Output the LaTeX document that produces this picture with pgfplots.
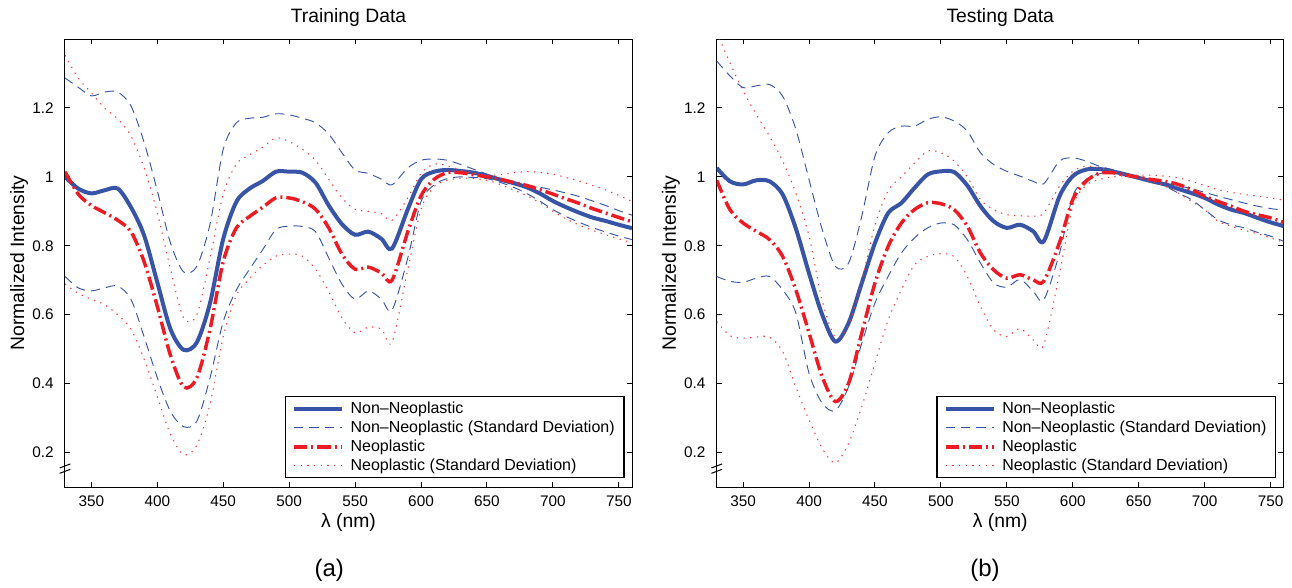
\documentclass[border=0pt]{standalone}
\usepackage{fontspec}
\setmainfont{Liberation Sans}
\usepackage{pgfplots}
\usepackage{pgfplotstable}
\pgfplotsset{compat=1.18}

\definecolor{mblue}{RGB}{56,84,166}
\definecolor{mred}{RGB}{237,28,36}
\definecolor{mredlt}{RGB}{240,60,60}

% x  nn (mean)  nnu/nnl (mean +- sd)  ne (mean)  neu/nel (mean +- sd)
\pgfplotstableread{
x   nn    nnu   nnl   ne    neu   nel
330 1.000 1.287 0.711 1.015 1.353 0.689
340 0.966 1.260 0.678 0.950 1.287 0.662
350 0.952 1.235 0.669 0.917 1.244 0.645
360 0.961 1.246 0.678 0.896 1.200 0.629
370 0.966 1.246 0.683 0.874 1.168 0.600
380 0.912 1.206 0.645 0.841 1.119 0.558
390 0.830 1.100 0.536 0.754 1.026 0.471
400 0.694 0.960 0.417 0.624 0.896 0.362
410 0.558 0.808 0.319 0.482 0.732 0.253
420 0.498 0.724 0.275 0.390 0.590 0.194
430 0.520 0.741 0.291 0.417 0.600 0.221
440 0.634 0.863 0.417 0.558 0.765 0.341
450 0.820 1.080 0.580 0.754 0.950 0.536
460 0.928 1.157 0.672 0.852 1.037 0.656
470 0.966 1.170 0.732 0.885 1.064 0.705
480 0.988 1.173 0.789 0.912 1.086 0.743
490 1.015 1.183 0.847 0.939 1.113 0.770
500 1.015 1.180 0.857 0.939 1.102 0.776
510 1.012 1.170 0.856 0.928 1.080 0.770
520 0.983 1.157 0.841 0.906 1.048 0.732
530 0.917 1.124 0.765 0.852 0.993 0.667
540 0.863 1.070 0.689 0.776 0.939 0.591
550 0.832 1.020 0.645 0.732 0.906 0.547
560 0.841 1.010 0.669 0.738 0.900 0.564
570 0.820 0.993 0.645 0.721 0.893 0.558
578 0.792 0.977 0.613 0.700 0.874 0.520
590 0.906 1.026 0.765 0.841 0.939 0.732
600 0.993 1.048 0.928 0.945 1.010 0.906
610 1.015 1.052 0.977 0.993 1.037 0.972
620 1.020 1.048 0.995 1.012 1.032 0.990
630 1.017 1.036 1.000 1.012 1.020 0.996
640 1.012 1.022 0.998 1.006 1.010 0.995
650 1.003 1.008 0.995 1.000 1.005 0.990
660 0.992 0.995 0.984 0.993 1.006 0.978
670 0.982 0.986 0.970 0.984 1.012 0.962
680 0.970 0.977 0.952 0.975 1.015 0.946
690 0.952 0.970 0.930 0.963 1.013 0.925
700 0.930 0.962 0.905 0.950 1.008 0.900
710 0.912 0.953 0.885 0.936 0.998 0.878
720 0.896 0.943 0.868 0.923 0.988 0.860
730 0.882 0.930 0.853 0.908 0.975 0.845
740 0.872 0.917 0.840 0.895 0.962 0.832
750 0.861 0.902 0.828 0.882 0.946 0.820
760 0.851 0.889 0.818 0.870 0.929 0.808
}\train

\pgfplotstableread{
x   nn    nnu   nnl   ne    neu   nel
330 1.026 1.336 0.711 0.990 1.420 0.580
340 0.987 1.293 0.697 0.905 1.331 0.539
350 0.978 1.259 0.694 0.866 1.249 0.532
360 0.990 1.264 0.706 0.842 1.181 0.535
370 0.987 1.268 0.711 0.818 1.118 0.535
380 0.949 1.234 0.672 0.769 1.046 0.493
390 0.850 1.138 0.605 0.672 0.953 0.390
400 0.720 0.992 0.430 0.547 0.828 0.295
410 0.600 0.847 0.343 0.420 0.640 0.212
420 0.522 0.740 0.322 0.348 0.535 0.170
430 0.576 0.750 0.391 0.401 0.570 0.227
440 0.692 0.886 0.517 0.547 0.700 0.333
450 0.808 1.060 0.634 0.692 0.860 0.460
460 0.895 1.128 0.711 0.798 0.960 0.585
470 0.924 1.147 0.779 0.866 1.000 0.672
480 0.968 1.147 0.823 0.905 1.040 0.745
490 1.007 1.167 0.852 0.925 1.075 0.769
500 1.016 1.174 0.866 0.922 1.070 0.777
510 1.014 1.162 0.861 0.905 1.046 0.769
520 0.975 1.133 0.818 0.857 1.000 0.711
530 0.915 1.070 0.750 0.779 0.934 0.624
540 0.871 1.036 0.692 0.730 0.905 0.556
550 0.852 1.016 0.680 0.706 0.890 0.537
560 0.861 1.002 0.702 0.716 0.887 0.560
570 0.842 0.987 0.668 0.701 0.886 0.527
578 0.813 0.980 0.643 0.697 0.895 0.513
590 0.944 1.046 0.779 0.810 0.973 0.720
600 1.002 1.055 0.944 0.934 1.016 0.915
610 1.021 1.046 0.992 0.987 1.031 0.975
620 1.023 1.031 1.009 1.010 1.026 0.992
630 1.016 1.021 1.012 1.012 1.016 1.000
640 1.007 1.009 1.006 1.005 1.007 1.002
650 0.997 1.000 0.998 0.999 1.005 0.997
660 0.987 0.990 0.985 0.992 1.005 0.987
670 0.978 0.982 0.973 0.987 1.002 0.973
680 0.965 0.974 0.953 0.978 0.997 0.953
690 0.953 0.966 0.934 0.963 0.987 0.929
700 0.939 0.955 0.905 0.944 0.975 0.905
710 0.920 0.944 0.876 0.929 0.963 0.871
720 0.905 0.934 0.861 0.915 0.955 0.857
730 0.895 0.924 0.852 0.900 0.949 0.845
740 0.881 0.915 0.839 0.890 0.944 0.835
750 0.868 0.908 0.828 0.881 0.939 0.823
760 0.857 0.903 0.813 0.868 0.932 0.810
}\test

\pgfplotsset{
  spec/.style={
    scale only axis, width=425.25pt, height=336pt,
    xmin=330, xmax=760, ymin=0.1, ymax=1.4,
    xtick={350,400,...,750}, ytick={0.2,0.4,0.6,0.8,1,1.2},
    tick align=inside, tick pos=both, major tick length=4pt,
    axis line style={line width=0.75pt},
    every tick/.style={black, line width=0.75pt},
    /pgf/number format/assume math mode=true,
    tick label style={font=\fontsize{11.5}{13.8}\selectfont},
    xticklabel style={yshift=-3pt},
    yticklabel style={xshift=-5pt},
    label style={font=\fontsize{14.5}{17}\selectfont},
    every axis title shift=0pt,
    title style={font=\fontsize{14.5}{17}\selectfont,
      at={(axis description cs:0.5,1.047)}, anchor=center},
    xlabel={λ (nm)},
    xlabel style={at={(axis description cs:0.5,-0.08)}, anchor=center},
    ylabel={Normalized Intensity},
    ylabel style={at={(axis description cs:-0.081,0.5)}, anchor=center},
    clip mode=individual,
    legend style={at={(axis description cs:0.987,0.019)}, anchor=south east,
      draw=black, line width=0.9pt, fill=white,
      font=\fontsize{12}{14.4}\selectfont,
      inner xsep=5pt, inner ysep=2pt, row sep=0pt, column sep=3pt,
      cells={anchor=west}},
    legend image code/.code={\draw[#1] (0pt,0pt) -- (36pt,0pt);},
  },
  nnmean/.style={mblue, line width=3pt, smooth, tension=0.5},
  nnsd/.style={mblue, line width=0.7pt, dash pattern=on 7pt off 4.5pt, smooth, tension=0.5},
  nemean/.style={mred, line width=2.6pt, dash pattern=on 10pt off 3pt on 1.5pt off 3pt, smooth, tension=0.5},
  nesd/.style={mredlt, line width=0.8pt, dash pattern=on 1pt off 4pt, smooth, tension=0.5},
}

\newcommand{\breakmark}{%
  \draw[line width=0.75pt] (axis description cs:0,0.035) ++(-4pt,-1.5pt) -- ++(8pt,3pt);
  \draw[line width=0.75pt] (axis description cs:0,0.047) ++(-4pt,-1.5pt) -- ++(8pt,3pt);
}

\begin{document}
\begin{tikzpicture}
\useasboundingbox (-48.75pt,-75pt) rectangle (920.25pt,365.25pt);

\begin{axis}[spec, at={(0pt,0pt)}, anchor=south west, title={Training Data}]
  \addplot[nnmean] table[x=x, y=nn] {\train};
  \addlegendentry{Non–Neoplastic}
  \addplot[nnsd] table[x=x, y=nnu] {\train};
  \addlegendentry{Non–Neoplastic (Standard Deviation)}
  \addplot[nnsd, forget plot] table[x=x, y=nnl] {\train};
  \addplot[nemean] table[x=x, y=ne] {\train};
  \addlegendentry{Neoplastic}
  \addplot[nesd] table[x=x, y=neu] {\train};
  \addlegendentry{Neoplastic (Standard Deviation)}
  \addplot[nesd, forget plot] table[x=x, y=nel] {\train};
  \breakmark
  \node[font=\fontsize{18}{21}\selectfont] at (axis description cs:0.466,-0.185) {(a)};
\end{axis}

\begin{axis}[spec, at={(488.8pt,0pt)}, anchor=south west, title={Testing Data}]
  \addplot[nnmean] table[x=x, y=nn] {\test};
  \addlegendentry{Non–Neoplastic}
  \addplot[nnsd] table[x=x, y=nnu] {\test};
  \addlegendentry{Non–Neoplastic (Standard Deviation)}
  \addplot[nnsd, forget plot] table[x=x, y=nnl] {\test};
  \addplot[nemean] table[x=x, y=ne] {\test};
  \addlegendentry{Neoplastic}
  \addplot[nesd] table[x=x, y=neu] {\test};
  \addlegendentry{Neoplastic (Standard Deviation)}
  \addplot[nesd, forget plot] table[x=x, y=nel] {\test};
  \breakmark
  \node[font=\fontsize{18}{21}\selectfont] at (axis description cs:0.473,-0.185) {(b)};
\end{axis}
\end{tikzpicture}
\end{document}
